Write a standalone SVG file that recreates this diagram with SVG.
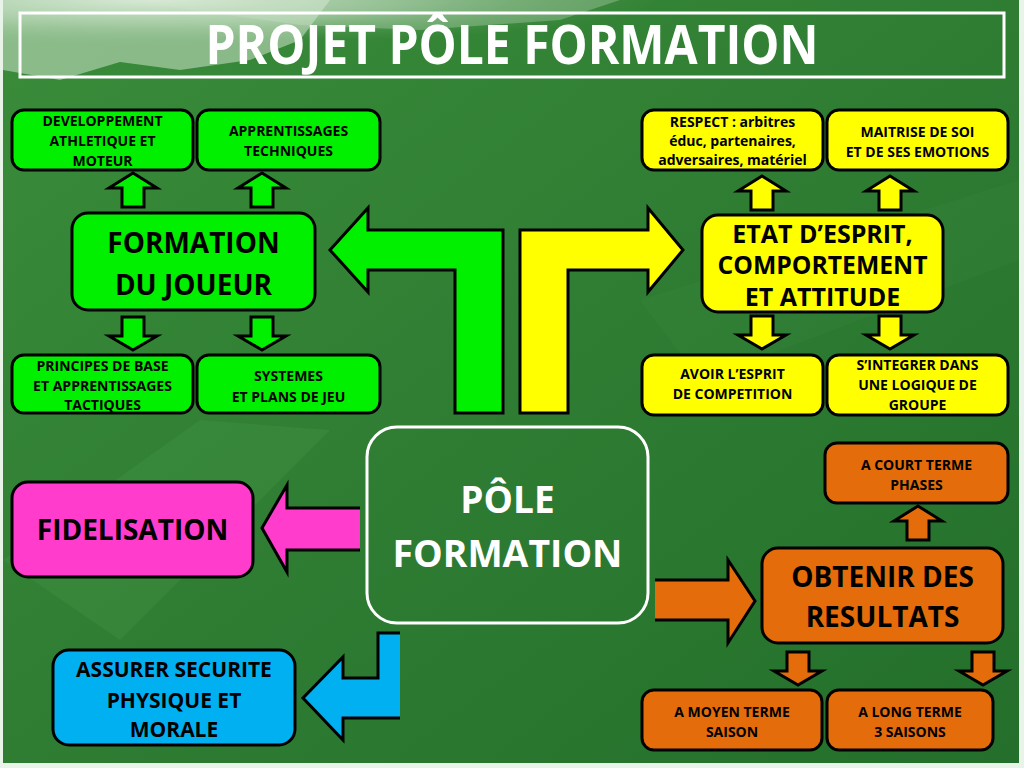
<svg xmlns="http://www.w3.org/2000/svg" xmlns:xlink="http://www.w3.org/1999/xlink" width="1024" height="768" viewBox="0 0 1024 768">
<defs>
<style>
.box{stroke:#000;stroke-width:3}
.g{fill:#00f000}.y{fill:#ffff00}.o{fill:#e46c0a}.m{fill:#ff3ccc}.b{fill:#00b0f0}
.t{font-family:"Open Sans","Noto Sans","DejaVu Sans",sans-serif;font-weight:bold;fill:#000;text-anchor:middle}
.s{font-size:14px}
.w{fill:#fff}
.arr{stroke:#000;stroke-width:3;stroke-linejoin:miter}
</style>
<linearGradient id="bg" x1="0" y1="0" x2="1" y2="1">
<stop offset="0" stop-color="#3a8c3a"/>
<stop offset="0.5" stop-color="#2f7d33"/>
<stop offset="1" stop-color="#236f2b"/>
</linearGradient>
<radialGradient id="mist" cx="0.15" cy="0" r="0.5">
<stop offset="0" stop-color="#e8f3e8" stop-opacity="0.9"/>
<stop offset="0.5" stop-color="#b8d8b8" stop-opacity="0.5"/>
<stop offset="1" stop-color="#5a9e5a" stop-opacity="0"/>
</radialGradient>
<polygon id="up" points="0,0 24,15 11,15 11,34 -11,34 -11,15 -24,15"/>
<polygon id="down" points="-11,0 11,0 11,19 24,19 0,33 -24,19 -11,19"/>
</defs>

<rect x="0" y="0" width="1024" height="768" fill="#e9f4e9"/>
<rect x="3" y="0" width="1016" height="763" fill="url(#bg)"/>
<rect x="3" y="0" width="1016" height="90" fill="url(#mist)"/>
<path d="M3,0 L330,0 L300,40 L250,60 L180,70 L120,62 L60,80 L3,70 Z" fill="#dcebd8" opacity="0.5"/>
<path d="M120,0 L620,0 L560,20 L420,30 L300,25 Z" fill="#cfe6cc" opacity="0.3"/>
<path d="M3,560 L200,420 L330,430 L120,640 Z" fill="#4a9a4a" opacity="0.25"/>
<path d="M640,300 L1019,180 L1019,260 L700,380 Z" fill="#4f9c4f" opacity="0.1"/>

<g id="title">
<rect x="20" y="13" width="984" height="64" fill="none" stroke="#fff" stroke-width="3"/>
<text class="t w" x="512" y="64" font-size="53" textLength="613" lengthAdjust="spacingAndGlyphs">PROJET PÔLE FORMATION</text>
</g>

<g id="connectors">
<polygon class="arr g" points="330,250 368,208 368,230 503,230 503,413 455,413 455,270 368,270 368,292"/>
<polygon class="arr y" points="520,413 520,230 648,230 648,208 683,250 648,292 648,270 568,270 568,413"/>
<g class="arr g">
<use xlink:href="#up" x="133" y="173"/>
<use xlink:href="#up" x="262" y="173"/>
<use xlink:href="#down" x="133" y="317"/>
<use xlink:href="#down" x="262" y="317"/>
</g>
<g class="arr y">
<use xlink:href="#up" x="762" y="176"/>
<use xlink:href="#up" x="890" y="176"/>
<use xlink:href="#down" x="762" y="316"/>
<use xlink:href="#down" x="890" y="316"/>
</g>
<g class="arr o">
<use xlink:href="#up" x="918" y="506"/>
<use xlink:href="#down" x="798" y="652"/>
<use xlink:href="#down" x="983" y="652"/>
</g>
<g id="arrow-fidelisation">
<polygon class="m" points="262,528 287,485 287,508 360,508 360,550 287,550 287,572"/>
<polyline points="360,508 287,508 287,485 262,528 287,572 287,550 360,550" fill="none" stroke="#000" stroke-width="3"/>
</g>
<g id="arrow-securite">
<polygon class="b" points="303,698 343,657 343,678 378,678 378,633 400,633 400,718 343,718 343,740"/>
<polyline points="400,633 378,633 378,678 343,678 343,657 303,698 343,740 343,718 400,718" fill="none" stroke="#000" stroke-width="3"/>
</g>
<g id="arrow-resultats">
<polygon class="o" points="655,580 728,580 728,560 755,601 728,643 728,620 655,620"/>
<polyline points="655,580 728,580 728,560 755,601 728,643 728,620 655,620" fill="none" stroke="#000" stroke-width="3"/>
</g>
</g>

<g id="pole-formation">
<rect x="367" y="427" width="281" height="196" rx="30" fill="none" stroke="#fff" stroke-width="3"/>
<text class="t w" x="507.5" y="513" font-size="37">PÔLE</text>
<text class="t w" x="507.5" y="567" font-size="37" textLength="230" lengthAdjust="spacingAndGlyphs">FORMATION</text>
</g>

<g id="formation-joueur">
<rect class="box g" x="72" y="213" width="243" height="97" rx="16"/>
<text class="t" x="193.5" y="253" font-size="28">FORMATION</text>
<text class="t" x="193.5" y="295" font-size="28">DU JOUEUR</text>
</g>
<g id="developpement">
<rect class="box g" x="12" y="110" width="181" height="60" rx="12"/>
<text class="t s" x="102.5" y="125.5">DEVELOPPEMENT</text>
<text class="t s" x="102.5" y="146">ATHLETIQUE ET</text>
<text class="t s" x="102.5" y="166">MOTEUR</text>
</g>
<g id="apprentissages-techniques">
<rect class="box g" x="197" y="110" width="183" height="60" rx="12"/>
<text class="t s" x="288.5" y="136">APPRENTISSAGES</text>
<text class="t s" x="288.5" y="156">TECHNIQUES</text>
</g>
<g id="principes">
<rect class="box g" x="12" y="355" width="181" height="58" rx="12"/>
<text class="t s" x="102.5" y="371">PRINCIPES DE BASE</text>
<text class="t s" x="102.5" y="391">ET APPRENTISSAGES</text>
<text class="t s" x="102.5" y="410">TACTIQUES</text>
</g>
<g id="systemes">
<rect class="box g" x="197" y="355" width="183" height="58" rx="12"/>
<text class="t s" x="288.5" y="381">SYSTEMES</text>
<text class="t s" x="288.5" y="402">ET PLANS DE JEU</text>
</g>

<g id="etat-esprit">
<rect class="box y" x="702" y="215" width="241" height="97" rx="16"/>
<text class="t" x="822.5" y="243" font-size="25">ETAT D’ESPRIT,</text>
<text class="t" x="822.5" y="274" font-size="25" textLength="210" lengthAdjust="spacingAndGlyphs">COMPORTEMENT</text>
<text class="t" x="822.5" y="306" font-size="25">ET ATTITUDE</text>
</g>
<g id="respect">
<rect class="box y" x="642" y="110" width="181" height="60" rx="12"/>
<text class="t s" x="732.5" y="127">RESPECT : arbitres</text>
<text class="t s" x="732.5" y="146">éduc, partenaires,</text>
<text class="t s" x="732.5" y="165">adversaires, matériel</text>
</g>
<g id="maitrise">
<rect class="box y" x="827" y="110" width="181" height="60" rx="12"/>
<text class="t s" x="917.5" y="137">MAITRISE DE SOI</text>
<text class="t s" x="917.5" y="157">ET DE SES EMOTIONS</text>
</g>
<g id="avoir-esprit">
<rect class="box y" x="642" y="355" width="181" height="60" rx="12"/>
<text class="t s" x="732.5" y="379">AVOIR L’ESPRIT</text>
<text class="t s" x="732.5" y="399">DE COMPETITION</text>
</g>
<g id="integrer">
<rect class="box y" x="827" y="355" width="181" height="60" rx="12"/>
<text class="t s" x="917.5" y="370">S’INTEGRER DANS</text>
<text class="t s" x="917.5" y="390">UNE LOGIQUE DE</text>
<text class="t s" x="917.5" y="410">GROUPE</text>
</g>

<g id="fidelisation">
<rect class="box m" x="12" y="482" width="241" height="95" rx="16"/>
<text class="t" x="132.5" y="540" font-size="28">FIDELISATION</text>
</g>
<g id="securite">
<rect class="box b" x="53" y="650" width="242" height="95" rx="16"/>
<text class="t" x="174" y="677" font-size="21">ASSURER SECURITE</text>
<text class="t" x="174" y="708" font-size="21">PHYSIQUE ET</text>
<text class="t" x="174" y="737" font-size="21">MORALE</text>
</g>

<g id="resultats">
<rect class="box o" x="762" y="548" width="241" height="95" rx="16"/>
<text class="t" x="882.5" y="587" font-size="28">OBTENIR DES</text>
<text class="t" x="882.5" y="627" font-size="28">RESULTATS</text>
</g>
<g id="court-terme">
<rect class="box o" x="825" y="443" width="183" height="60" rx="12"/>
<text class="t s" x="916.5" y="470">A COURT TERME</text>
<text class="t s" x="916.5" y="490">PHASES</text>
</g>
<g id="moyen-terme">
<rect class="box o" x="642" y="690" width="180" height="60" rx="12"/>
<text class="t s" x="732" y="717">A MOYEN TERME</text>
<text class="t s" x="732" y="737">SAISON</text>
</g>
<g id="long-terme">
<rect class="box o" x="827" y="690" width="166" height="60" rx="12"/>
<text class="t s" x="910" y="717">A LONG TERME</text>
<text class="t s" x="910" y="737">3 SAISONS</text>
</g>
</svg>
